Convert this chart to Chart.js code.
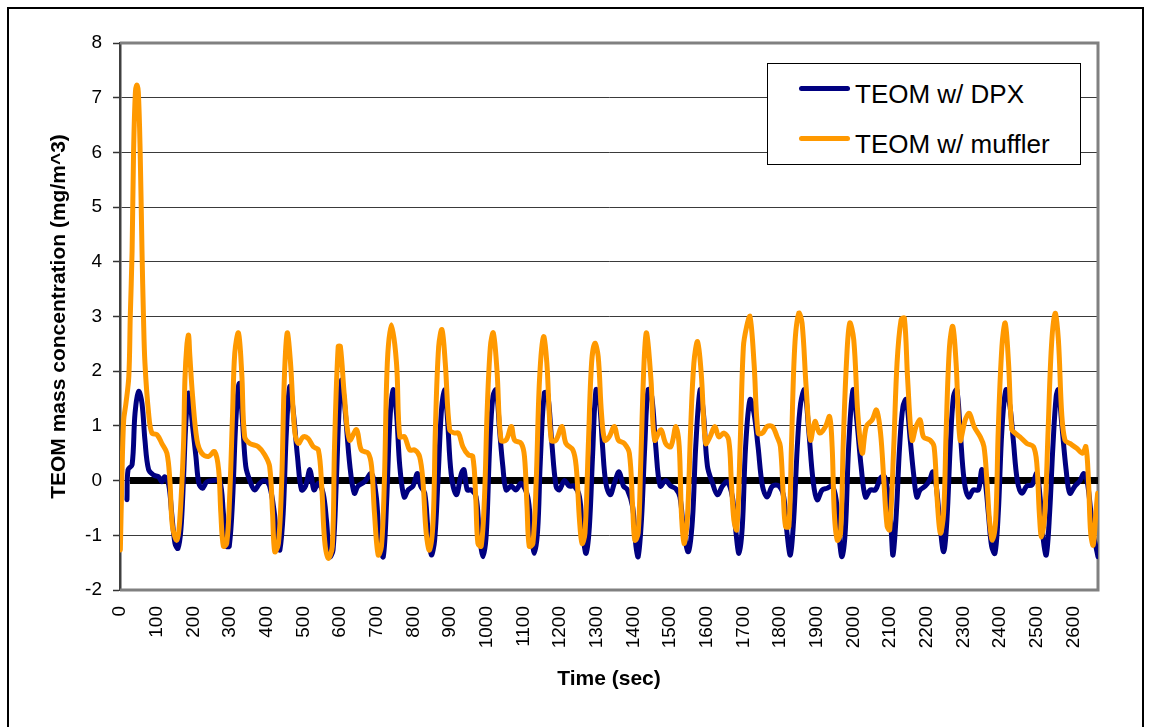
<!DOCTYPE html>
<html>
<head>
<meta charset="utf-8">
<script src="https://cdn.jsdelivr.net/npm/chart.js@4.4.1/dist/chart.umd.min.js"></script>
<style>
  html, body { margin: 0; padding: 0; background: #fff; overflow: hidden; }
  #wrap { position: relative; width: 1150px; height: 727px; overflow: hidden; }
  #frame { position: absolute; left: 7px; top: 7px; width: 1133px; height: 800px; border: 2px solid #000; box-sizing: content-box; pointer-events: none; }
  #chart { position: absolute; left: 0; top: 0; }
  #legend { position: absolute; left: 767px; top: 63px; width: 314px; height: 102px; box-sizing: border-box; border: 1px solid #000; background: #fff; font-family: "Liberation Sans", Arial, sans-serif; }
  .swatch { position: absolute; left: 31px; width: 51px; height: 5px; border-radius: 3px; }
  .ltext { position: absolute; left: 87px; font-size: 26px; line-height: 26px; color: #000; white-space: nowrap; }
</style>
</head>
<body>
<div id="wrap">
  <canvas id="chart" width="1150" height="727"></canvas>
  <div id="legend"></div>
  <div id="frame"></div>
</div>
<script>
// ---- data ----
const xTickLabels = [0,100,200,300,400,500,600,700,800,900,1000,1100,1200,1300,1400,1500,1600,1700,1800,1900,2000,2100,2200,2300,2400,2500,2600];
const yTickValues = [-2,-1,0,1,2,3,4,5,6,7,8];

const dpxLabel = "TEOM w/ DPX";
const mufflerLabel = "TEOM w/ muffler";

const dpxTimes = [19,22,33,41,51,60,68,78,92,105,114,122,133,141,150,158,166,173,180,188,198,207,215,225,237,255,272,282,291,298,307,316,325,334,343,354,367,381,395,408,421,430,436,445,454,463,473,484,495,506,518,529,541,554,563,572,581,590,597,604,613,627,639,649,667,686,699,708,718,727,736,745,754,763,775,786,799,811,820,831,840,849,858,867,876,884,892,903,917,931,938,947,958,971,980,990,999,1008,1017,1026,1035,1044,1053,1067,1080,1094,1112,1121,1130,1139,1146,1157,1166,1177,1189,1198,1212,1225,1239,1253,1262,1271,1280,1289,1298,1307,1316,1325,1337,1348,1361,1373,1384,1398,1407,1413,1422,1431,1440,1450,1461,1473,1488,1502,1516,1527,1538,1550,1561,1570,1582,1591,1602,1616,1629,1643,1656,1670,1679,1688,1697,1706,1718,1729,1740,1752,1765,1779,1797,1810,1819,1828,1837,1847,1856,1867,1878,1890,1901,1915,1928,1942,1953,1962,1969,1978,1987,1999,2010,2021,2033,2046,2060,2074,2085,2096,2103,2108,2117,2126,2135,2144,2155,2164,2173,2182,2196,2207,2217,2226,2235,2246,2255,2264,2273,2282,2291,2302,2314,2327,2341,2350,2359,2368,2377,2386,2395,2405,2416,2427,2436,2447,2459,2473,2487,2500,2509,2518,2526,2535,2544,2553,2559,2568,2580,2590,2604,2618,2628,2637,2646,2653,2661,2667];
const dpxValues = [-0.35,0.2,0.29,1.23,1.63,1.41,0.74,0.2,0.1,0.07,-0.02,0.07,-0.08,-0.6,-1.15,-1.24,-0.9,0,1.1,1.6,0.99,0.44,-0.05,-0.14,-0.02,0,0,-0.6,-1.2,-1.2,-0.35,1.1,1.78,1.1,0.26,0,-0.17,-0.05,0,-0.1,-0.6,-1.2,-1.27,-0.6,0.93,1.72,1.23,0.44,-0.17,-0.1,0.2,-0.17,-0.05,-0.23,-0.72,-1.39,-1.27,0,1.23,1.84,1.35,0.26,-0.23,-0.1,-0.02,0.13,-0.3,-1.15,-1.39,-0.4,1.1,1.66,1.23,0.26,-0.3,-0.17,-0.1,0.13,-0.1,-0.23,-0.9,-1.36,-1.09,0,1.23,1.66,1.23,0.13,-0.26,0.13,0.2,-0.17,-0.17,-0.3,-0.96,-1.39,-0.96,0.62,1.54,1.66,0.93,0.26,-0.17,-0.1,-0.17,-0.05,-0.3,-0.9,-1.33,-0.9,0.32,1.6,1.6,0.74,-0.1,-0.17,0,-0.1,-0.1,-0.3,-0.96,-1.33,-0.84,0.5,1.66,1.48,0.62,-0.05,-0.26,-0.05,0.16,-0.1,-0.17,-0.48,-1.2,-1.39,-0.72,0.62,1.66,1.54,0.62,-0.1,0,-0.1,-0.15,-0.3,-0.96,-1.3,-0.72,0.62,1.66,1.23,0.26,-0.05,-0.26,-0.1,-0.02,-0.3,-0.9,-1.33,-0.84,0.62,1.48,1.23,0.62,-0.1,-0.3,-0.1,-0.1,-0.3,-0.96,-1.36,-0.72,0.62,1.41,1.66,0.93,0,-0.35,-0.17,-0.14,-0.1,-0.35,-1.09,-1.39,-0.9,0.62,1.66,1.05,0.26,-0.3,-0.17,-0.17,0.05,0.07,-0.3,-0.9,-1.36,-0.6,0.62,1.35,1.48,0.74,0.13,-0.3,-0.17,-0.1,0,0.16,-0.1,-0.72,-1.3,-0.72,0.62,1.54,1.66,0.93,0,-0.3,-0.17,-0.17,0.2,0,-0.6,-1.2,-1.33,-0.6,0.93,1.66,1.35,0.74,0,-0.23,-0.1,-0.08,0.13,-0.3,-1.09,-1.36,-0.6,0.62,1.54,1.66,1.05,0.2,-0.23,-0.1,0,0.13,0,-0.48,-0.96,-1.2,-1.39];

const mufflerTimes = [1,5,10,16,24,28,33,37,42,46,50,55,60,64,68,78,87,101,114,128,136,143,155,163,173,177,182,187,190,198,210,223,241,258,269,275,282,291,299,307,313,323,332,340,354,377,395,408,416,422,432,441,448,456,465,476,486,500,513,527,541,550,558,568,579,585,595,601,612,626,645,658,677,686,694,704,713,721,729,740,754,763,776,790,804,817,826,835,844,854,860,869,878,887,899,912,923,935,950,962,970,976,985,994,1001,1010,1018,1028,1039,1053,1067,1076,1094,1103,1110,1116,1126,1135,1144,1155,1164,1176,1189,1205,1216,1235,1244,1253,1260,1268,1277,1286,1295,1304,1313,1322,1334,1348,1359,1375,1389,1398,1404,1413,1420,1429,1436,1448,1458,1475,1488,1502,1516,1525,1531,1538,1547,1556,1565,1575,1585,1597,1609,1622,1633,1647,1660,1667,1674,1682,1691,1700,1709,1718,1729,1740,1752,1765,1779,1792,1801,1809,1815,1824,1831,1840,1851,1860,1871,1883,1895,1908,1924,1935,1942,1948,1956,1965,1972,1981,1990,2001,2012,2024,2035,2051,2063,2074,2083,2092,2099,2110,2119,2130,2139,2148,2160,2171,2182,2191,2209,2220,2228,2237,2246,2253,2262,2271,2280,2291,2305,2316,2329,2346,2356,2364,2371,2379,2388,2395,2405,2414,2423,2432,2441,2454,2473,2491,2500,2507,2513,2522,2531,2540,2550,2559,2568,2577,2590,2609,2625,2634,2641,2647,2654,2661,2666];
const mufflerValues = [-1.27,0.0,1.1,1.4,1.9,3.0,4.2,6.0,7.1,7.23,7.1,6.0,4.2,3.0,2.15,1.23,0.87,0.84,0.68,0.5,0.0,-0.84,-1.09,-0.72,0.62,1.84,2.45,2.66,2.33,1.54,0.74,0.5,0.44,0.53,0.2,-0.6,-1.2,-1.15,-0.3,1.23,2.33,2.7,1.96,0.8,0.68,0.62,0.47,0.26,-0.6,-1.3,-1.15,0.01,1.84,2.7,2.15,0.93,0.68,0.8,0.77,0.62,0.56,-0.1,-1.09,-1.42,-1.2,0.62,2.45,2.45,1.54,0.74,0.93,0.56,0.5,0.26,-0.6,-1.36,-1.2,0.0,2.15,2.85,2.15,0.8,0.8,0.56,0.56,0.44,0,-0.96,-1.27,-0.72,0.93,2.45,2.76,2.15,0.93,0.87,0.87,0.62,0.47,0.44,-0.3,-1.15,-1.2,-0.3,1.23,2.45,2.7,2.02,0.74,0.74,0.99,0.74,0.68,0.44,-0.48,-1.2,-1.15,0,1.84,2.63,2.15,0.74,0.74,0.99,0.68,0.56,0.26,-0.72,-1.15,-0.96,0.62,2.15,2.51,2.27,1.23,0.74,0.8,0.99,0.74,0.68,0.5,-0.48,-1.09,-0.96,0.32,2.15,2.7,1.84,0.74,0.93,0.68,0.62,0.99,0.62,-0.6,-1.15,-0.72,0.93,2.15,2.54,1.96,0.68,0.8,0.99,0.8,0.87,0.74,0,-0.72,-0.9,0.62,2.45,2.82,3.0,2.15,0.87,0.87,0.99,0.99,0.8,0.62,-0.3,-0.84,-0.84,0.62,2.45,3.06,2.88,1.72,0.74,1.08,0.87,0.99,1.17,0.62,-0.6,-1.09,-0.96,0.62,2.15,2.88,2.57,1.23,0.5,0.99,1.11,1.29,0.87,0,-0.84,-0.9,0.62,2.15,2.94,2.97,1.84,0.74,0.99,1.11,0.8,0.74,0.62,-0.3,-0.96,-0.6,0.93,2.45,2.82,2.15,0.74,1.11,1.23,0.99,0.8,0.62,0,-0.72,-1.09,-0.72,0.93,2.45,2.88,2.15,0.93,0.87,0.8,0.68,0.62,0.32,-0.6,-1.03,-0.6,0.93,2.45,3.06,2.57,1.23,0.74,0.68,0.59,0.5,0.62,0,-0.96,-1.18,-0.6,-0.23];

const zeroLineTimes = [27, 2667];
const zeroLineValues = [0, 0];

const xMin = 0, xMax = 2667;
const yMin = -2, yMax = 8;

// ---- build chart ----
const FONT = '"Liberation Sans", Arial, sans-serif';
const toPoints = (ts, vs) => ts.map((t, i) => ({ x: t, y: vs[i] }));

const plotFrame = {
  id: 'plotFrame',
  beforeDatasetsDraw(chart) {
    const { ctx, chartArea: a } = chart;
    ctx.save();
    ctx.strokeStyle = '#808080';
    ctx.lineWidth = 3;
    ctx.beginPath();
    ctx.moveTo(a.left, a.top);
    ctx.lineTo(a.right, a.top);
    ctx.lineTo(a.right, a.bottom);
    ctx.lineTo(a.left, a.bottom);
    ctx.stroke();
    ctx.restore();
  }
};

const datasets = [
  { label: mufflerLabel, data: toPoints(mufflerTimes, mufflerValues), borderColor: '#FF9900', borderWidth: 5, order: 0, showInLegend: true },
  { label: dpxLabel, data: toPoints(dpxTimes, dpxValues), borderColor: '#000080', borderWidth: 5, order: 1, showInLegend: true },
  { label: 'zero', data: toPoints(zeroLineTimes, zeroLineValues), borderColor: '#000000', borderWidth: 7, order: 2, tension: 0, borderCapStyle: 'butt', showInLegend: false }
];

const chart = new Chart(document.getElementById('chart'), {
  type: 'line',
  data: { datasets: datasets.map(d => Object.assign({
    pointRadius: 0, pointHoverRadius: 0, fill: false, tension: 0.35,
    borderCapStyle: 'round', borderJoinStyle: 'round'
  }, d)) },
  options: {
    responsive: false,
    devicePixelRatio: 1,
    animation: false,
    events: [],
    layout: { padding: { top: 43, right: 52, left: 0, bottom: 0 } },
    plugins: { legend: { display: false }, tooltip: { enabled: false } },
    scales: {
      x: {
        type: 'linear',
        min: xMin, max: xMax,
        afterBuildTicks: s => { s.ticks = xTickLabels.map(v => ({ value: v })); },
        afterFit: s => { s.height = 137; },
        grid: { display: false, drawTicks: false },
        border: { display: false },
        ticks: {
          autoSkip: false, minRotation: 90, maxRotation: 90, padding: 16,
          color: '#000', font: { family: FONT, size: 19 },
          callback: v => String(v)
        },
        title: { display: true, text: 'Time (sec)', color: '#000', font: { family: FONT, size: 21, weight: 'bold' }, padding: { top: 0, bottom: 35 } }
      },
      y: {
        min: yMin, max: yMax,
        afterBuildTicks: s => { s.ticks = yTickValues.map(v => ({ value: v })); },
        afterFit: s => { s.width = 120; },
        grid: {
          color: c => (c.tick && (c.tick.value === yMax || c.tick.value === yMin)) ? 'rgba(0,0,0,0)' : '#3a3a3a',
          lineWidth: 1, tickLength: 7, tickColor: '#333', tickWidth: 1.5
        },
        border: { display: true, color: '#404040', width: 2.5 },
        ticks: { color: '#000', padding: 11, font: { family: FONT, size: 19 }, callback: v => String(v) },
        title: { display: true, text: 'TEOM mass concentration (mg/m^3)', color: '#000', font: { family: FONT, size: 21, weight: 'bold' }, padding: { top: 47, bottom: 0 } }
      }
    }
  },
  plugins: [plotFrame]
});

// ---- HTML legend built from the datasets ----
const legend = document.getElementById('legend');
const legendItems = [dpxLabel, mufflerLabel];
const swatchTops = [22, 72];
legendItems.forEach((name, i) => {
  const ds = chart.data.datasets.find(d => d.label === name);
  const sw = document.createElement('div');
  sw.className = 'swatch';
  sw.style.top = swatchTops[i] + 'px';
  sw.style.background = ds.borderColor;
  legend.appendChild(sw);
  const tx = document.createElement('div');
  tx.className = 'ltext';
  tx.style.top = (swatchTops[i] - 5) + 'px';
  tx.textContent = name;
  legend.appendChild(tx);
});
</script>
</body>
</html>
